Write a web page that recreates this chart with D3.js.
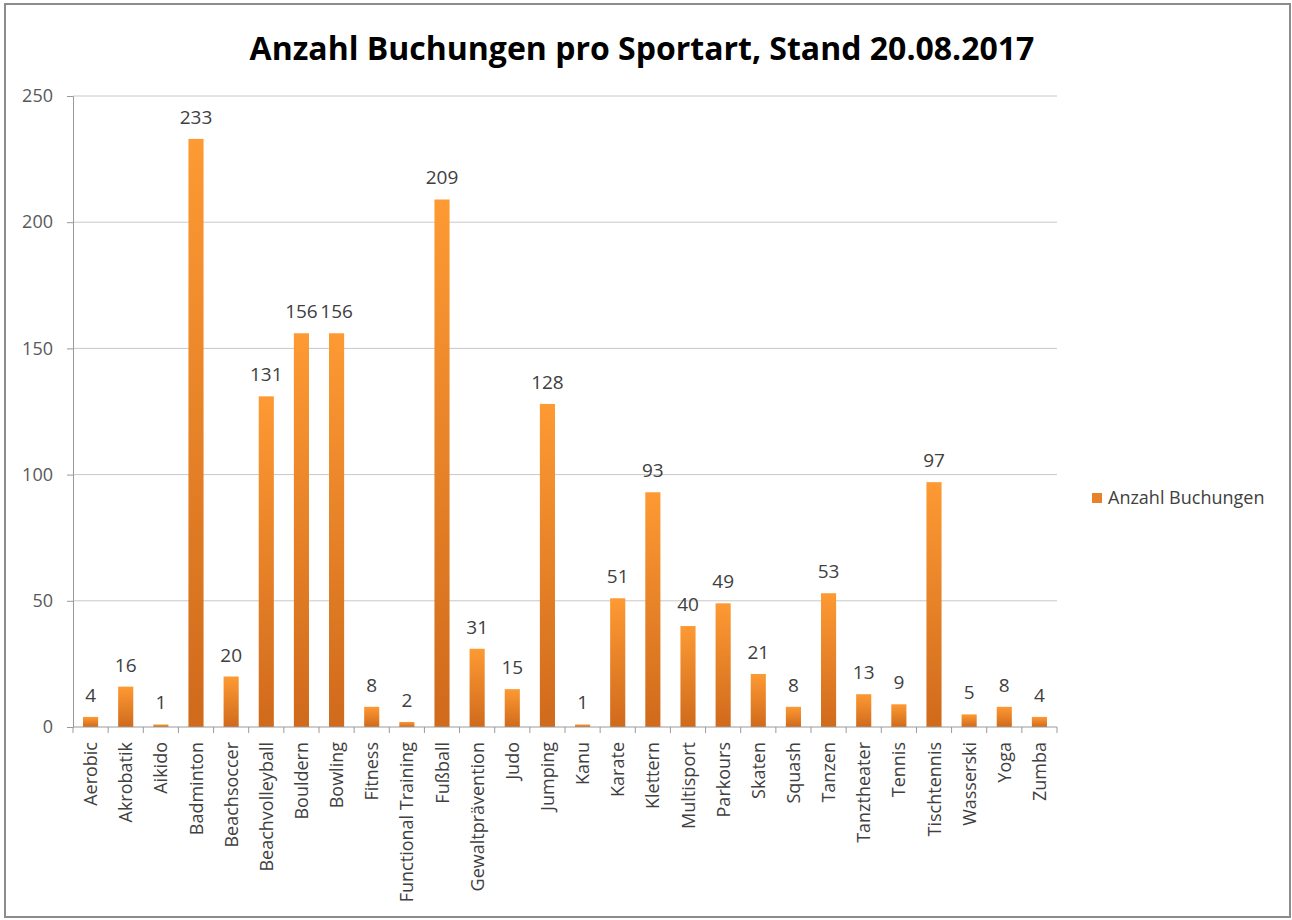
<!DOCTYPE html>
<html lang="de">
<head>
  <meta charset="UTF-8">
  <title>Anzahl Buchungen pro Sportart</title>
  <script src="https://d3js.org/d3.v7.min.js"></script>
  <style>
    body { margin: 0; background: #fff; }
    svg text { font-family: "Open Sans", "Noto Sans", sans-serif; }
  </style>
</head>
<body>
  <div id="chart"></div>
  <script>
    var sports = ["Aerobic", "Akrobatik", "Aikido", "Badminton", "Beachsoccer", "Beachvolleyball",
      "Bouldern", "Bowling", "Fitness", "Functional Training", "Fußball", "Gewaltprävention",
      "Judo", "Jumping", "Kanu", "Karate", "Klettern", "Multisport", "Parkours", "Skaten",
      "Squash", "Tanzen", "Tanztheater", "Tennis", "Tischtennis", "Wasserski", "Yoga", "Zumba"];
    var bookings = [4, 16, 1, 233, 20, 131, 156, 156, 8, 2, 209, 31, 15, 128, 1, 51, 93, 40, 49, 21,
      8, 53, 13, 9, 97, 5, 8, 4];
    var yTicks = [0, 50, 100, 150, 200, 250];
    var chartTitle = "Anzahl Buchungen pro Sportart, Stand 20.08.2017";
    var seriesName = "Anzahl Buchungen";

    var W = 1292, H = 920;
    var margin = { top: 96, right: 235, bottom: 193, left: 73 };
    var width = W - margin.left - margin.right,
        height = H - margin.top - margin.bottom;

    var svg = d3.select("#chart").append("svg")
      .attr("width", W)
      .attr("height", H);

    // outer frame
    svg.append("rect")
      .attr("x", 5).attr("y", 4)
      .attr("width", 1285).attr("height", 913)
      .attr("fill", "#fff")
      .attr("stroke", "#8c8c8c")
      .attr("stroke-width", 2);

    var defs = svg.append("defs");
    var grad = defs.append("linearGradient")
      .attr("id", "barGrad")
      .attr("x1", 0).attr("y1", 0).attr("x2", 0).attr("y2", 1);
    grad.append("stop").attr("offset", "0%").attr("stop-color", "#fd9a33");
    grad.append("stop").attr("offset", "100%").attr("stop-color", "#d06a1c");

    svg.append("text")
      .attr("x", 642)
      .attr("y", 60)
      .attr("text-anchor", "middle")
      .style("font-size", "32px")
      .style("font-weight", "bold")
      .style("fill", "#000")
      .text(chartTitle);

    var g = svg.append("g")
      .attr("transform", "translate(" + margin.left + "," + margin.top + ")");

    var x = d3.scaleBand()
      .domain(sports)
      .range([0, width])
      .paddingInner(0.57)
      .paddingOuter(0.285);

    var y = d3.scaleLinear()
      .domain([0, 250])
      .range([height, 0]);

    // gridlines
    g.append("g")
      .selectAll("line")
      .data(yTicks.slice(1))
      .enter().append("line")
      .attr("x1", 0).attr("x2", width)
      .attr("y1", function (d) { return y(d); })
      .attr("y2", function (d) { return y(d); })
      .attr("stroke", "#c8c8c8")
      .attr("stroke-width", 1);

    // y axis
    var yAxis = g.append("g")
      .call(d3.axisLeft(y).tickValues(yTicks).tickSize(6).tickPadding(14));
    yAxis.select(".domain").attr("stroke", "#9a9a9a");
    yAxis.selectAll(".tick line").attr("stroke", "#9a9a9a");
    yAxis.selectAll("text").style("font-size", "18px").style("fill", "#595959");

    // bars
    g.selectAll(".bar")
      .data(bookings)
      .enter().append("rect")
      .attr("class", "bar")
      .attr("x", function (d, i) { return x(sports[i]); })
      .attr("y", function (d) { return y(d); })
      .attr("width", x.bandwidth())
      .attr("height", function (d) { return height - y(d); })
      .attr("fill", "url(#barGrad)");

    // value labels
    g.selectAll(".val")
      .data(bookings)
      .enter().append("text")
      .attr("class", "val")
      .attr("x", function (d, i) { return x(sports[i]) + x.bandwidth() / 2; })
      .attr("y", function (d) { return y(d) - 15; })
      .attr("text-anchor", "middle")
      .style("font-size", "19px")
      .style("fill", "#404040")
      .text(function (d) { return d; });

    // x axis with ticks between categories
    var xAxisG = g.append("g").attr("transform", "translate(0," + height + ")");
    xAxisG.append("line")
      .attr("x1", 0).attr("x2", width)
      .attr("stroke", "#9a9a9a");
    var step = x.step();
    xAxisG.selectAll(".sep")
      .data(d3.range(sports.length + 1))
      .enter().append("line")
      .attr("x1", function (i) { return x(sports[0]) - x.paddingOuter() * step + i * step; })
      .attr("x2", function (i) { return x(sports[0]) - x.paddingOuter() * step + i * step; })
      .attr("y1", 0).attr("y2", 6)
      .attr("stroke", "#9a9a9a");
    xAxisG.selectAll(".cat")
      .data(sports)
      .enter().append("text")
      .attr("class", "cat")
      .attr("transform", function (d) {
        return "translate(" + (x(d) + x.bandwidth() / 2 + 6.5) + ",15) rotate(-90)";
      })
      .attr("text-anchor", "end")
      .style("font-size", "18px")
      .style("fill", "#404040")
      .text(function (d) { return d; });

    // legend
    var leg = svg.append("g").attr("transform", "translate(1092,492)");
    leg.append("rect")
      .attr("width", 10).attr("height", 10)
      .attr("y", 1)
      .attr("fill", "#e8822a");
    leg.append("text")
      .attr("x", 16).attr("y", 12)
      .style("font-size", "18px")
      .style("fill", "#404040")
      .text(seriesName);
  </script>
</body>
</html>
